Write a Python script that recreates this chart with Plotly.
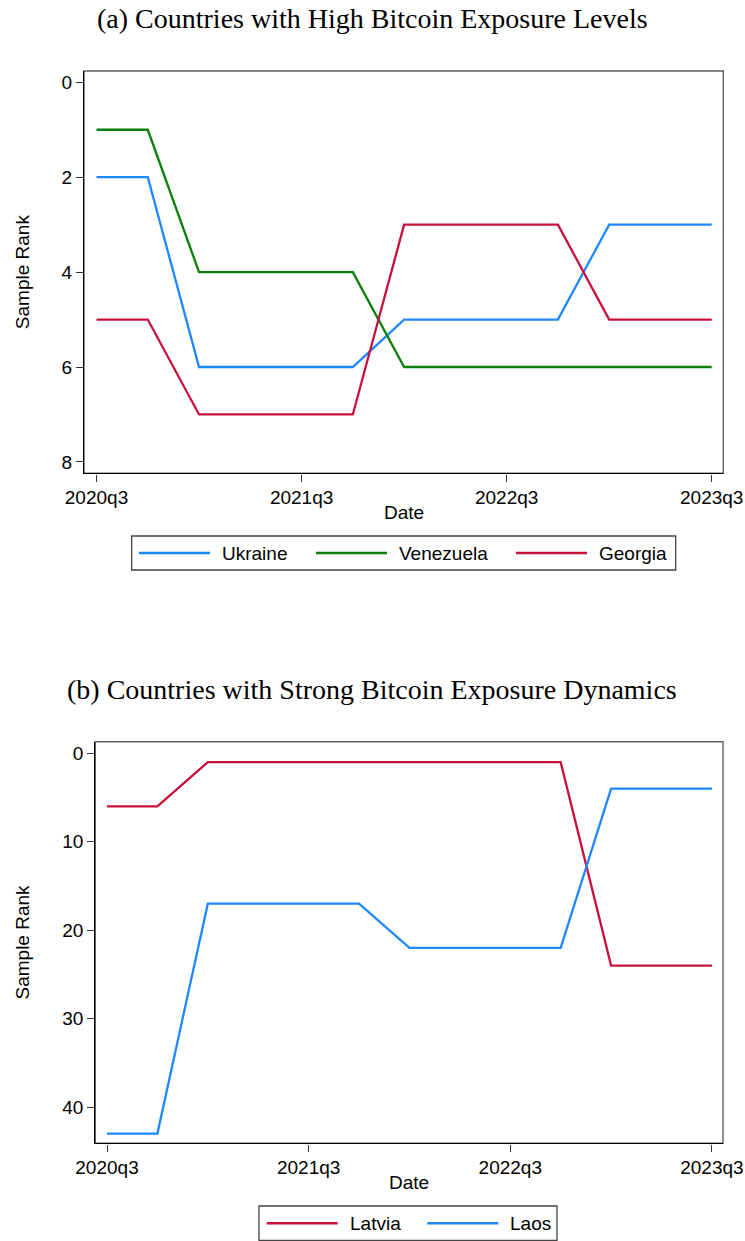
import plotly.graph_objects as go

# Quarterly sample ranks (1 = highest exposure)
quarters = ["2020q3", "2020q4", "2021q1", "2021q2", "2021q3", "2021q4", "2022q1",
            "2022q2", "2022q3", "2022q4", "2023q1", "2023q2", "2023q3"]
tick_quarters = ["2020q3", "2021q3", "2022q3", "2023q3"]

ukraine = [2, 2, 6, 6, 6, 6, 5, 5, 5, 5, 3, 3, 3]
venezuela = [1, 1, 4, 4, 4, 4, 6, 6, 6, 6, 6, 6, 6]
georgia = [5, 5, 7, 7, 7, 7, 3, 3, 3, 3, 5, 5, 5]

latvia = [6, 6, 1, 1, 1, 1, 1, 1, 1, 1, 24, 24, 24]
laos = [43, 43, 17, 17, 17, 17, 22, 22, 22, 22, 4, 4, 4]

yticks_a = [0, 2, 4, 6, 8]
yticks_b = [0, 10, 20, 30, 40]

titles = ["(a) Countries with High Bitcoin Exposure Levels",
          "(b) Countries with Strong Bitcoin Exposure Dynamics"]

BLUE = "#1E88FF"
GREEN = "#0A800A"
RED = "#C8103C"

W, H = 745, 1241
SANS = "Liberation Sans, Arial, sans-serif"
SERIF = "Liberation Serif, Times New Roman, serif"
FS = 19


def px(x):
    return x / W


def py(y):
    return 1 - y / H


panels = [
    dict(series=[("Ukraine", ukraine, BLUE), ("Venezuela", venezuela, GREEN),
                 ("Georgia", georgia, RED)],
         yticks=yticks_a, yrange=[8.24, -0.238], xrange=[-0.244, 12.226],
         box=(84, 723.3, 71, 473.3), title_y=19,
         legend_box=(131.7, 675.7, 536, 570), legend_x=[139, 316, 516]),
    dict(series=[("Latvia", latvia, RED), ("Laos", laos, BLUE)],
         yticks=yticks_b, yrange=[44.1, -1.31], xrange=[-0.232, 12.22],
         box=(95.3, 723, 741.7, 1143.3), title_y=689,
         legend_box=(259, 557, 1206, 1240.5), legend_x=[266.7, 427.3]),
]

fig = go.Figure()
shapes = []
annotations = []

for i, p in enumerate(panels, start=1):
    xa = "x" if i == 1 else f"x{i}"
    ya = "y" if i == 1 else f"y{i}"
    x0, x1, y0, y1 = p["box"]

    for name, vals, color in p["series"]:
        fig.add_trace(go.Scatter(
            x=quarters, y=vals, name=name, mode="lines",
            line=dict(color=color, width=2.3), xaxis=xa, yaxis=ya,
            showlegend=False))

    axis_common = dict(
        showline=True, linecolor="black", linewidth=1.4, mirror=False,
        ticks="outside", ticklen=7, tickwidth=1.2, tickcolor="#333333",
        showgrid=False, zeroline=False, automargin=False,
        tickfont=dict(family=SANS, size=FS, color="black"))

    fig.update_layout(**{
        ("xaxis" if i == 1 else f"xaxis{i}"): dict(
            axis_common, type="category", categoryorder="array",
            categoryarray=quarters, tickvals=tick_quarters,
            range=p["xrange"], domain=[px(x0), px(x1)],
            anchor=ya),
        ("yaxis" if i == 1 else f"yaxis{i}"): dict(
            axis_common, tickvals=p["yticks"], range=p["yrange"],
            domain=[py(y1), py(y0)], anchor=xa),
    })

    # plot region outline
    shapes.append(dict(type="rect", xref=f"{xa} domain", yref=f"{ya} domain",
                       x0=0, x1=1, y0=0, y1=1, layer="below",
                       line=dict(color="#5f5f5f", width=1.4)))

    # panel title
    annotations.append(dict(text=titles[i - 1], xref="paper", yref="paper",
                            x=px(372), y=py(p["title_y"]), showarrow=False,
                            xanchor="center", yanchor="middle",
                            font=dict(family=SERIF, size=28, color="black")))
    # axis titles
    annotations.append(dict(text="Date", xref="paper", yref="paper",
                            x=px((x0 + x1) / 2), y=py(y1 + 39.5),
                            showarrow=False, xanchor="center", yanchor="middle",
                            font=dict(family=SANS, size=FS, color="black")))
    annotations.append(dict(text="Sample Rank", xref="paper", yref="paper",
                            x=px(22), y=py((y0 + y1) / 2), textangle=-90,
                            showarrow=False, xanchor="center", yanchor="middle",
                            font=dict(family=SANS, size=FS, color="black")))

    # legend box with line samples
    lx0, lx1, ly0, ly1 = p["legend_box"]
    shapes.append(dict(type="rect", xref="paper", yref="paper",
                       x0=px(lx0), x1=px(lx1), y0=py(ly1), y1=py(ly0),
                       line=dict(color="#444444", width=1.3),
                       fillcolor="white"))
    ly = (ly0 + ly1) / 2
    for (name, _, color), sx in zip(p["series"], p["legend_x"]):
        shapes.append(dict(type="line", xref="paper", yref="paper",
                           x0=px(sx), x1=px(sx + 71), y0=py(ly), y1=py(ly),
                           line=dict(color=color, width=2.3)))
        annotations.append(dict(text=name, xref="paper", yref="paper",
                                x=px(sx + 81), y=py(ly), showarrow=False,
                                xanchor="left", yanchor="middle",
                                font=dict(family=SANS, size=FS, color="black")))

fig.update_layout(
    width=W, height=H, margin=dict(l=0, r=0, t=0, b=0),
    paper_bgcolor="white", plot_bgcolor="white",
    showlegend=False, shapes=shapes, annotations=annotations)

fig.write_html("out.html")
